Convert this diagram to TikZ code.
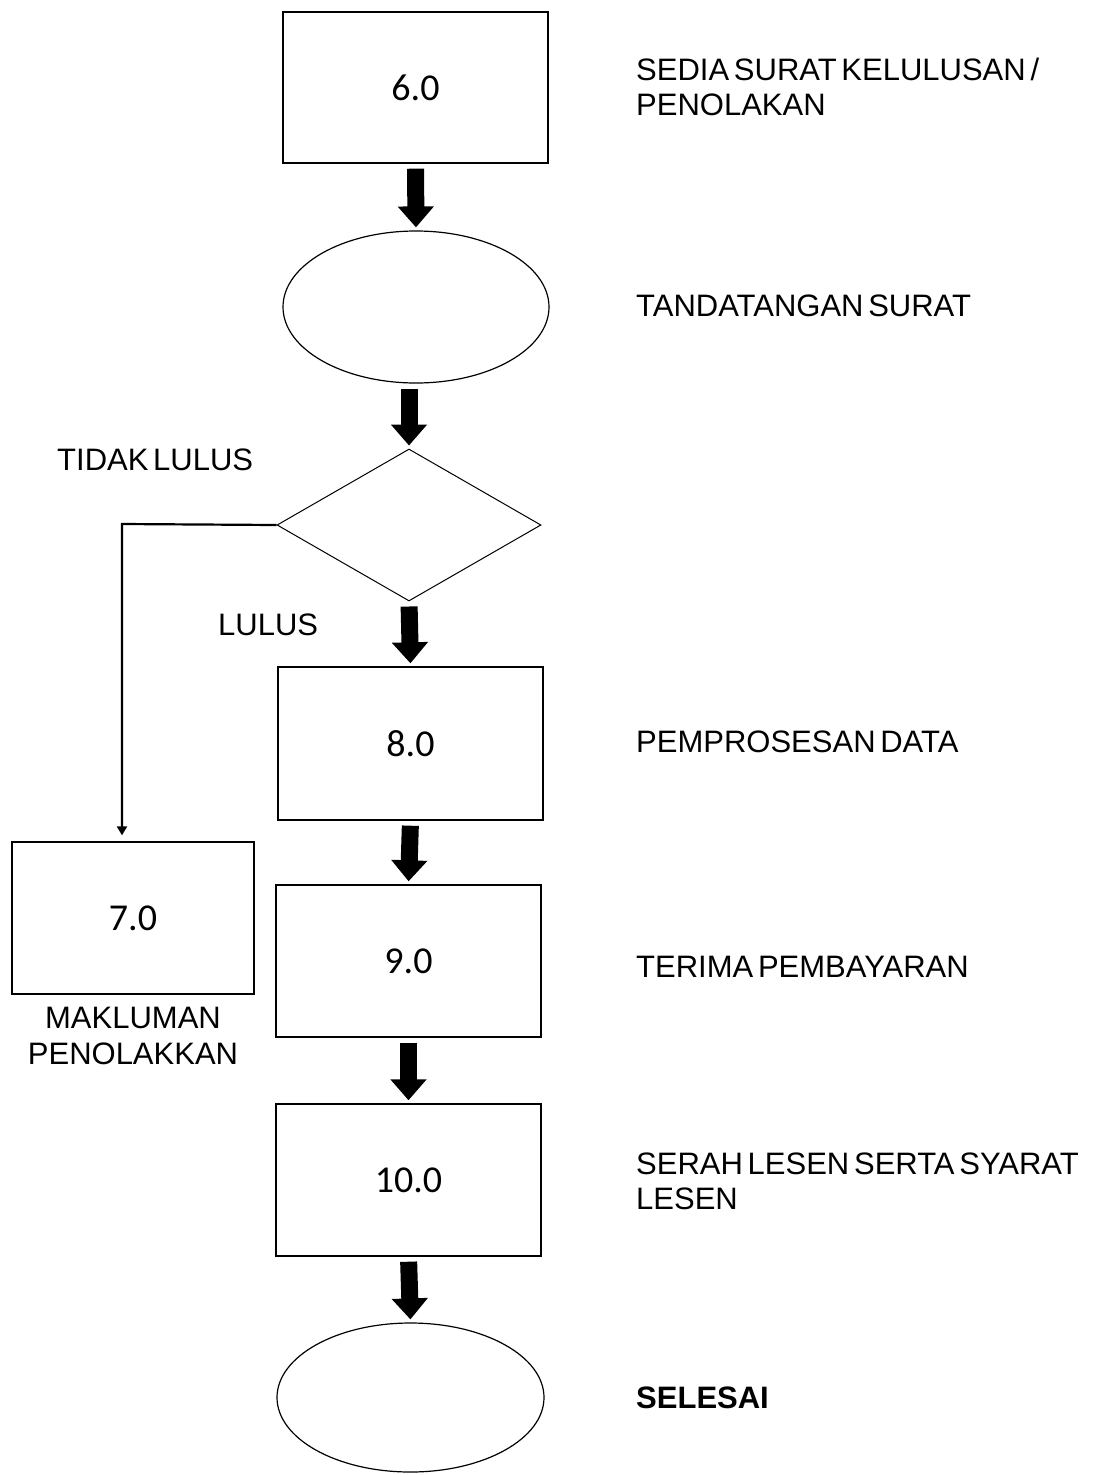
\documentclass[tikz,border=0pt]{standalone}
\usepackage{fontspec}
\setmainfont{Liberation Sans}[WordSpace=0.55]
\newfontfamily\numfont{Carlito}
\usetikzlibrary{shapes.geometric,arrows.meta}
\begin{document}
\begin{tikzpicture}[x=1pt,y=-1pt,
  procbox/.style={draw, line width=1.4pt, inner sep=0pt, font=\numfont\fontsize{38}{40}\selectfont},
  oval/.style={draw, ellipse, line width=1.2pt, inner sep=0pt},
  decision/.style={draw, diamond, line width=1pt, inner sep=0pt, aspect=1.737},
  fat/.style={line width=17pt, -{Triangle[width=35pt,length=21pt]}, shorten <=5pt, shorten >=3pt},
  thin/.style={line width=2.2pt, -{Triangle[width=10pt,length=9pt]}},
  lbl/.style={anchor=west, align=left, inner sep=0pt, font=\fontsize{31}{35}\selectfont},
  clbl/.style={align=center, inner sep=0pt, font=\fontsize{31}{36}\selectfont}]
\useasboundingbox[fill=white] (0,0) rectangle (1105,1475);

\node[procbox, minimum width=265pt, minimum height=151pt] (b6) at (415.5,87.5) {6.0};
\node[oval, minimum width=266pt, minimum height=152pt] (e1) at (416,307) {};
\node[decision, minimum width=264pt, minimum height=152pt] (d) at (409,525) {};
\node[procbox, minimum width=265pt, minimum height=153pt] (b8) at (410.5,743.5) {8.0};
\node[procbox, minimum width=265pt, minimum height=152pt] (b9) at (408.5,961) {9.0};
\node[procbox, minimum width=265pt, minimum height=152pt] (b10) at (408.5,1180) {10.0};
\node[oval, minimum width=267pt, minimum height=149pt] (e2) at (410.5,1397.5) {};
\node[procbox, minimum width=242pt, minimum height=152pt] (b7) at (133,918) {7.0};

\draw[fat] (b6.south) -- (e1.north);
\draw[fat] (e1.south -| d.north) -- (d.north);
\draw[fat] (d.south) -- (b8.north);
\draw[fat] (b8.south) -- (b9.north);
\draw[fat] (b9.south) -- (b10.north);
\draw[fat] (b10.south) -- (e2.north);

\coordinate (c) at (122,524);
\draw[thin, shorten >=6pt] (d.west) -- (c) -- (c |- b7.north);

\node[lbl] (t1) at (636,87) {SEDIA SURAT KELULUSAN /\\PENOLAKAN};
\node[lbl] (t2) at (636,306) {TANDATANGAN SURAT};
\node[lbl] (t3) at (57,460) {TIDAK LULUS};
\node[lbl] (t4) at (218,625) {LULUS};
\node[lbl] (t5) at (636,742) {PEMPROSESAN DATA};
\node[lbl] (t6) at (636,967) {TERIMA PEMBAYARAN};
\node[lbl] (t7) at (636,1181) {SERAH LESEN SERTA SYARAT\\LESEN};
\node[lbl, font=\bfseries\fontsize{31}{35}\selectfont] (t8) at (636,1398) {SELESAI};
\node[clbl] (t9) at (133,1036) {MAKLUMAN\\PENOLAKKAN};
\end{tikzpicture}
\end{document}
